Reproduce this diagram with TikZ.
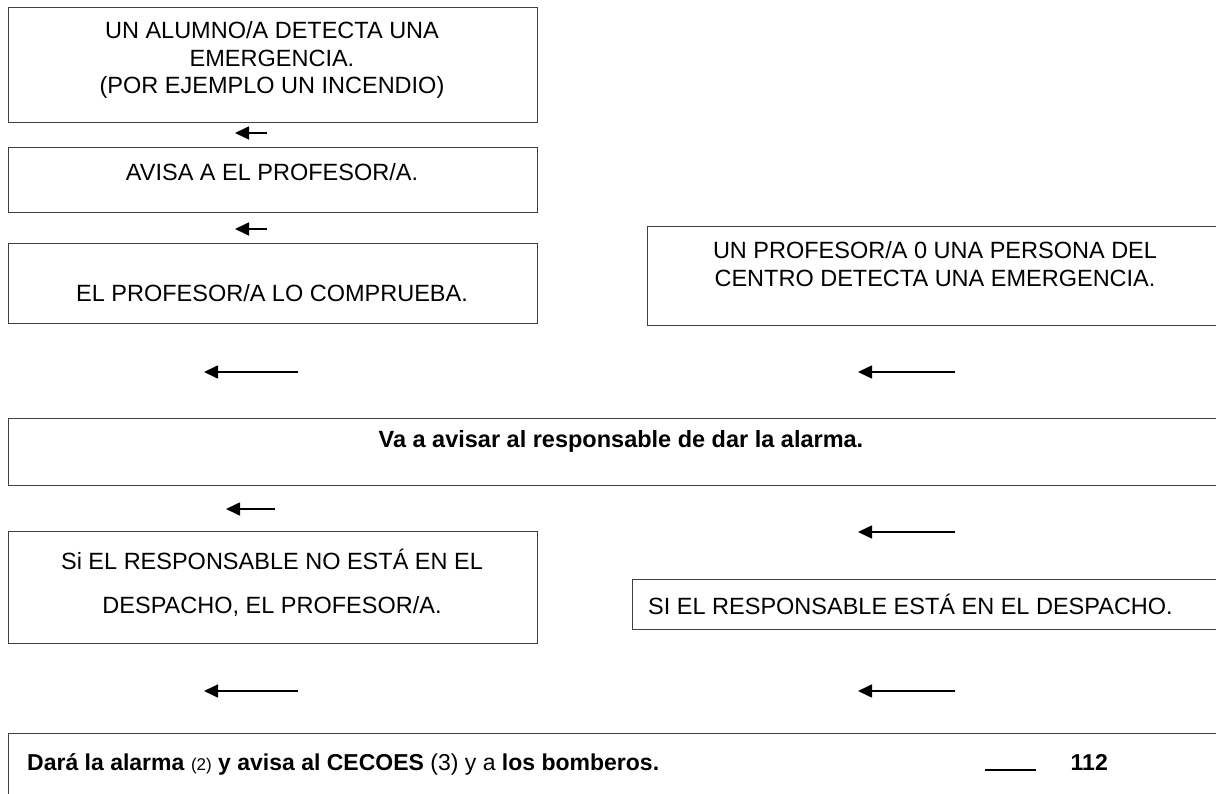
\documentclass[tikz,border=0pt]{standalone}
\usepackage{fontspec}
\setmainfont{Liberation Sans}
\usetikzlibrary{arrows.meta}
\tikzset{
  boxline/.style={draw=black!75, line width=1.3pt, inner sep=0pt, anchor=north west},
  txt/.style={font=\fontsize{23.5}{27.5}\selectfont, inner sep=0pt, align=center},
  arr/.style={line width=1.6pt, -{Triangle[length=14pt,width=13pt]}},
}
\begin{document}
\begin{tikzpicture}
\path[use as bounding box] (0pt,0pt) rectangle (1216pt,-794pt);
\clip (0pt,0pt) rectangle (1216pt,-794pt);
% left column boxes
\node[boxline, minimum width=529pt, minimum height=115pt] (b1) at (8pt,-7pt) {};
\node[txt] (t1) at (272pt,-60pt) {UN ALUMNO/A DETECTA UNA\\EMERGENCIA.\\(POR EJEMPLO UN INCENDIO)};
\node[boxline, minimum width=529pt, minimum height=65pt] (b2) at (8pt,-147pt) {};
\node[txt] (t2) at (272pt,-172pt) {AVISA A EL PROFESOR/A.};
\node[boxline, minimum width=529pt, minimum height=80pt] (b3) at (8pt,-243pt) {};
\node[txt] (t3) at (272pt,-293pt) {EL PROFESOR/A LO COMPRUEBA.};
% right box
\node[boxline, minimum width=600pt, minimum height=99pt] (b4) at (647pt,-226pt) {};
\node[txt] (t4) at (935pt,-264pt) {UN PROFESOR/A 0 UNA PERSONA DEL\\CENTRO DETECTA UNA EMERGENCIA.};
% wide box
\node[boxline, minimum width=1240pt, minimum height=67pt] (b5) at (8pt,-418pt) {};
\node[txt, font=\fontsize{23.5}{27}\selectfont\bfseries] (t5) at (621pt,-441pt) {Va a avisar al responsable de dar la alarma.};
% lower boxes
\node[boxline, minimum width=529pt, minimum height=112pt] (b6) at (8pt,-531pt) {};
\node[txt] (t6) at (272pt,-559pt) {Si EL RESPONSABLE NO ESTÁ EN EL};
\node[txt] (t6b) at (272pt,-606pt) {DESPACHO, EL PROFESOR/A.};
\node[boxline, minimum width=600pt, minimum height=50pt] (b7) at (632pt,-579pt) {};
\node[txt, anchor=west] (t7) at (648pt,-604pt) {SI EL RESPONSABLE ESTÁ EN EL DESPACHO.};
% bottom box
\node[boxline, minimum width=1240pt, minimum height=100pt] (b8) at (8pt,-733pt) {};
\node[txt, anchor=base west, font=\fontsize{23}{27}\selectfont] (t8) at (27pt,-770pt) {\textbf{Dará la alarma} {\fontsize{17}{20}\selectfont(2)} \textbf{y avisa al CECOES} (3) y a \textbf{los bomberos.}};
\coordinate (l1) at (985pt,-770pt);
\coordinate (l2) at (1036pt,-770pt);
\draw[line width=1.2pt] (l1) -- (l2);
\node[txt, anchor=base east, font=\fontsize{23}{27}\selectfont\bfseries] (t9) at (1108pt,-770pt) {112};
% arrows
\coordinate (a1s) at (267pt,-133pt); \coordinate (a1e) at (235pt,-133pt);
\coordinate (a2s) at (267pt,-229pt); \coordinate (a2e) at (235pt,-229pt);
\coordinate (a3s) at (298pt,-372pt); \coordinate (a3e) at (204pt,-372pt);
\coordinate (a4s) at (955pt,-372pt); \coordinate (a4e) at (858pt,-372pt);
\coordinate (a5s) at (275pt,-509pt); \coordinate (a5e) at (226pt,-509pt);
\coordinate (a6s) at (955pt,-532pt); \coordinate (a6e) at (858pt,-532pt);
\coordinate (a7s) at (298pt,-691pt); \coordinate (a7e) at (204pt,-691pt);
\coordinate (a8s) at (955pt,-691pt); \coordinate (a8e) at (858pt,-691pt);
\foreach \i in {1,...,8} {\draw[arr] (a\i s) -- (a\i e);}
\end{tikzpicture}
\end{document}
